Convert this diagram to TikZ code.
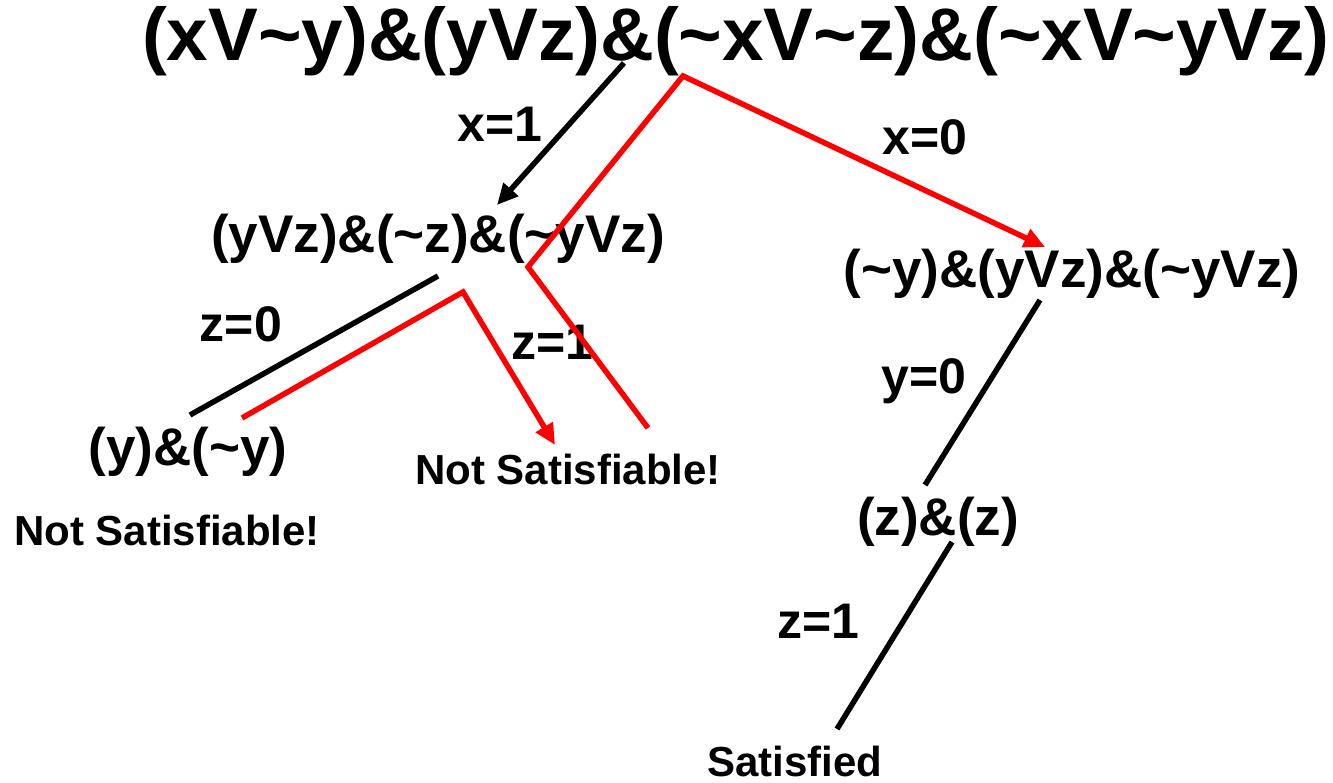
\documentclass[tikz,border=0pt]{standalone}
\usepackage{fontspec}
\setmainfont{Liberation Sans}
\usetikzlibrary{arrows.meta}

\newcommand{\nega}{\textasciitilde}

\tikzset{
    formula/.style={font=\fontsize{53}{60}\selectfont\bfseries, inner sep=0pt, anchor=base},
    bigformula/.style={formula, font=\fontsize{74.6}{80}\selectfont\bfseries},
    verdict/.style={font=\fontsize{42}{48}\selectfont\bfseries, inner sep=0pt, anchor=base},
    assign/.style={font=\fontsize{50}{56}\selectfont\bfseries, inner sep=0pt, anchor=base},
    branch/.style={line width=5.5pt, black},
    trail/.style={line width=5.5pt, red},
    tip/.style={-{Triangle[length=21pt,width=19pt]}}
}

\begin{document}
\begin{tikzpicture}[x=1pt,y=-1pt]
        \useasboundingbox (0,0) rectangle (1333,783);

        % Formulas at each level
        \node[bigformula] (root) at (736,61) {(xV\nega y)\&(yVz)\&(\nega xV\nega z)\&(\nega xV\nega yVz)};
        \node[formula] (xone) at (438,253) {(yVz)\&(\nega z)\&(\nega yVz)};
        \node[formula] (xzero) at (1072,288) {(\nega y)\&(yVz)\&(\nega yVz)};
        \node[formula] (zzero) at (188,465) {(y)\&(\nega y)};
        \node[formula] (yzero) at (938,535) {(z)\&(z)};

        % Outcomes
        \node[verdict] (failA) at (167,545) {Not Satisfiable!};
        \node[verdict] (failB) at (568,484) {Not Satisfiable!};
        \node[verdict] (done) at (795,776) {Satisfied};

        % Assignments
        \node[assign] (lx1) at (500,142) {x=1};
        \node[assign] (lx0) at (925,155) {x=0};
        \node[assign] (lz0) at (241,342) {z=0};
        \node[assign] (lz1) at (552,360) {z=1};
        \node[assign] (ly0) at (924,393) {y=0};
        \node[assign] (lz1b) at (818,638) {z=1};

        % End points of the branches
        \coordinate (rootL) at (624,63);
        \coordinate (xoneT) at (497,205);
        \coordinate (xoneL) at (438,276);
        \coordinate (zzeroT) at (190,415);
        \coordinate (xzeroB) at (1040,300);
        \coordinate (yzeroT) at (925,485);
        \coordinate (yzeroB) at (952,542);
        \coordinate (doneT) at (837,729);

        % Red search trail
        \coordinate (zzeroR) at (242,418);
        \coordinate (xoneB) at (463,292);
        \coordinate (failBT) at (555,445);
        \coordinate (failBR) at (648,428);
        \coordinate (xoneR) at (528,267);
        \coordinate (rootR) at (683,76);
        \coordinate (xzeroT) at (1045,247);

        % Draw black branches
        \draw[branch, tip] (rootL) -- (xoneT);
        \draw[branch] (xoneL) -- (zzeroT);
        \draw[branch] (xzeroB) -- (yzeroT);
        \draw[branch] (yzeroB) -- (doneT);

        % Draw red backtracking
        \draw[trail, tip] (zzeroR) -- (xoneB) -- (failBT);
        \draw[trail, tip] (failBR) -- (xoneR) -- (rootR) -- (xzeroT);
    \end{tikzpicture}
\end{document}
